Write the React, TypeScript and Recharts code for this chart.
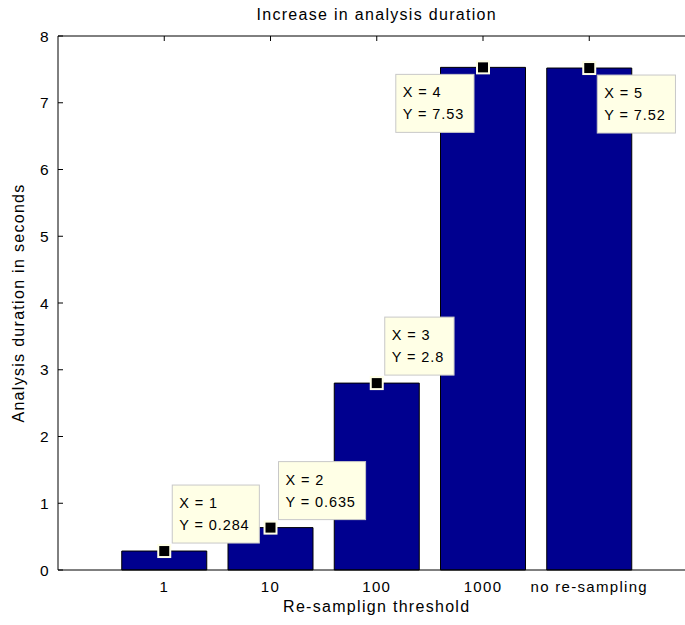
import { BarChart, Bar, XAxis, YAxis, LabelList, Label } from 'recharts';

const thresholds = ['1', '10', '100', '1000', 'no re-sampling'];
const durations = [0.284, 0.635, 2.8, 7.53, 7.52];
const tipX = [1, 2, 3, 4, 5];
const yTicks = [0, 1, 2, 3, 4, 5, 6, 7, 8];

// side of the marker on which each data tip box is drawn
const tipSide = ['ne', 'ne', 'ne', 'sw', 'se'];

const data = thresholds.map((t, i) => ({ threshold: t, duration: durations[i], x: tipX[i] }));

const TIP_BG = '#FFFFE6';

const DataTip = (props: any) => {
  const vb = props.viewBox || {};
  const x = props.x ?? vb.x;
  const y = props.y ?? vb.y;
  const width = props.width ?? vb.width;
  let index = props.index;
  if (index === undefined) index = durations.indexOf(Number(props.value));
  const d = data[index];
  if (!d) return null;
  const mx = x + width / 2;
  const my = y;
  const lines = [`X = ${d.x}`, `Y = ${d.duration}`];
  const w = 7 + 8.9 * Math.max(...lines.map((l) => l.length));
  const h = 58;
  const side = tipSide[index];
  const bx = side === 'sw' ? mx - 9 - w : mx + 8;
  const by = side === 'ne' ? my - 8 - h : my + 7;
  return (
    <g style={{ letterSpacing: '0.9px' }}>
      <rect x={bx} y={by} width={w} height={h} fill={TIP_BG} stroke="#C8C8C8" />
      <text x={bx + 7} y={by + 23} fontSize={14.5} fill="#000">
        {lines[0]}
      </text>
      <text x={bx + 7} y={by + 45} fontSize={14.5} fill="#000">
        {lines[1]}
      </text>
      <rect x={mx - 6} y={my - 6} width={12} height={12} fill="#000" stroke={TIP_BG} strokeWidth={2} />
    </g>
  );
};

// inward tick marks, MATLAB style
const TopTick = (p: any) => <line x1={p.x} x2={p.x} y1={p.y} y2={p.y + 5} stroke="#000" />;

const YTick = (p: any) => (
  <g>
    <line x1={p.x} x2={p.x + 5} y1={p.y} y2={p.y} stroke="#000" />
    <text x={p.x - 8} y={p.y} dy="0.36em" textAnchor="end" fontSize={15.5} fill="#000">
      {p.payload.value}
    </text>
  </g>
);

export default function App() {
  return (
    <div
      style={{
        position: 'fixed',
        left: 0,
        top: 0,
        width: 685,
        height: 625,
        overflow: 'hidden',
        background: '#fff',
        fontFamily: '"Liberation Sans", Arial, sans-serif',
        letterSpacing: '1.3px',
      }}
    >
      <BarChart
        width={700}
        height={625}
        data={data}
        margin={{ top: 35, right: 4.5, bottom: 25, left: 8 }}
        barCategoryGap="10%"
      >
        <XAxis
          dataKey="threshold"
          padding={{ left: 53.125, right: 53.125 }}
          height={30}
          tickSize={0}
          tickMargin={11}
          tickLine={false}
          axisLine={{ stroke: '#000' }}
          tick={{ fontSize: 15, fill: '#000' }}
          interval={0}
        >
          <Label value="Re-samplign threshold" position="bottom" offset={1} fontSize={16} fill="#000" />
        </XAxis>
        <XAxis
          xAxisId="top"
          orientation="top"
          dataKey="threshold"
          padding={{ left: 53.125, right: 53.125 }}
          height={1}
          tickSize={0}
          tickMargin={0}
          tick={TopTick}
          tickLine={false}
          axisLine={{ stroke: '#000' }}
          interval={0}
        >
          <Label value="Increase in analysis duration" position="top" offset={15} fontSize={16} fill="#000" />
        </XAxis>
        <YAxis
          width={50}
          domain={[0, 8]}
          ticks={yTicks}
          tickSize={0}
          tickMargin={0}
          tickLine={false}
          axisLine={{ stroke: '#000' }}
          tick={YTick}
          interval={0}
        >
          <Label
            content={() => (
              <text
                x={20}
                y={303}
                transform="rotate(-90 20 303)"
                textAnchor="middle"
                dominantBaseline="middle"
                fontSize={16}
                fill="#000"
              >
                Analysis duration in seconds
              </text>
            )}
          />
        </YAxis>
        <Bar dataKey="duration" fill="#00008F" stroke="#000" strokeWidth={1} isAnimationActive={false}>
          <LabelList dataKey="duration" content={DataTip} />
        </Bar>
      </BarChart>
    </div>
  );
}
